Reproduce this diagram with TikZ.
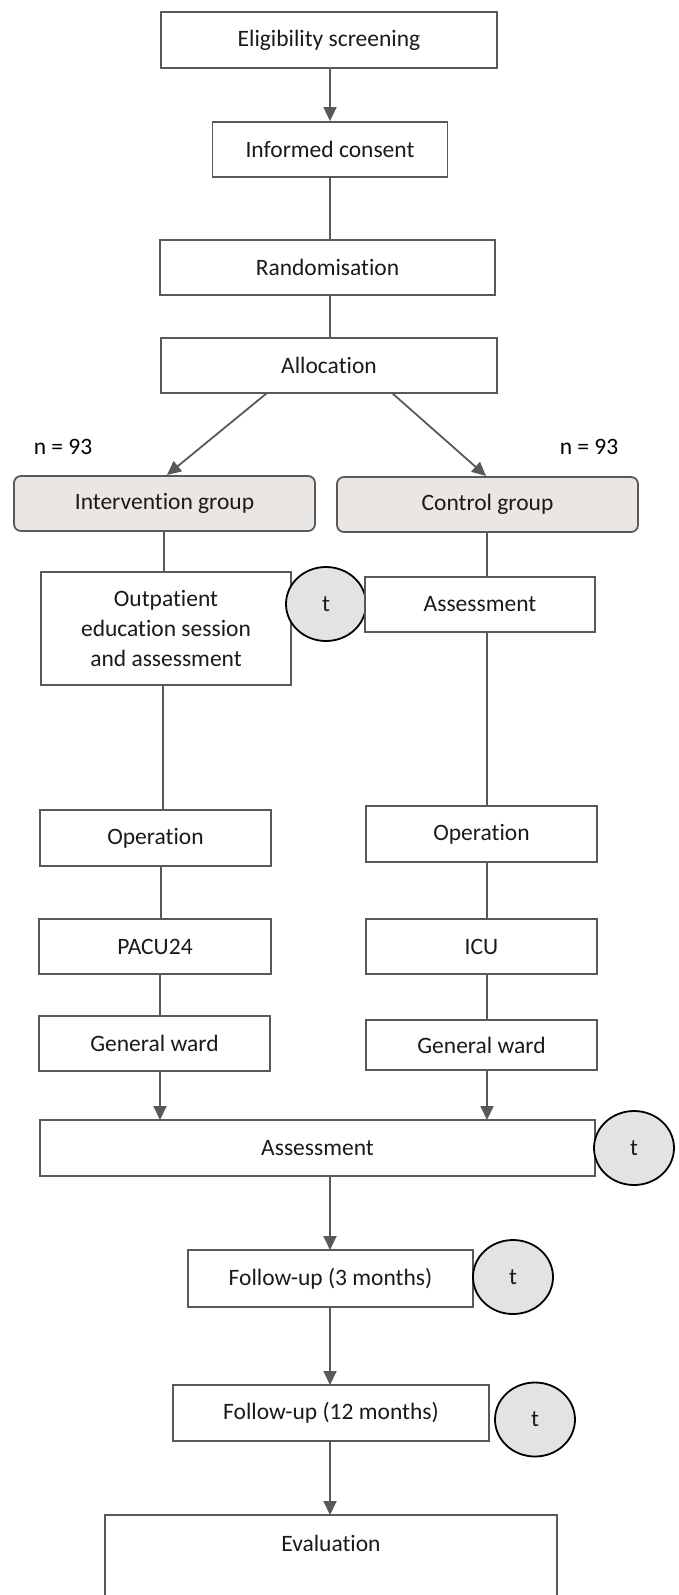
\documentclass[tikz,border=0pt]{standalone}
\usepackage{fontspec}
\setmainfont{Carlito}[Ligatures=NoCommon]
\usetikzlibrary{arrows.meta,shapes.geometric}
\definecolor{linegray}{HTML}{595959}
\definecolor{groupfill}{HTML}{EAE6E3}
\definecolor{circfill}{HTML}{E3E3E3}
\definecolor{txt}{HTML}{1A1A1A}
\tikzset{
  box/.style={draw=linegray, line width=1.8pt, fill=white, rectangle, inner sep=0pt,
    text=txt, font=\fontsize{23.5}{30}\selectfont, align=center},
  group/.style={box, rounded corners=7pt, fill=groupfill},
  tcirc/.style={draw=black, line width=1.8pt, fill=circfill, ellipse, inner sep=0pt,
    minimum width=80pt, minimum height=74pt, text=txt, font=\fontsize{23.5}{28}\selectfont},
  conn/.style={draw=linegray, line width=1.8pt},
  arr/.style={conn, -{Triangle[length=14pt,width=13pt]}},
  lbl/.style={text=black, font=\fontsize{23.5}{28}\selectfont, inner sep=0pt}
}
\begin{document}
\begin{tikzpicture}[x=1pt,y=-1pt]
\useasboundingbox (0,0) rectangle (679,1595);
\clip (0,0) rectangle (679,1595);
% top chain
\node[box, minimum width=336pt, minimum height=56pt] (elig) at (329,40) {Eligibility screening};
\node[box, minimum width=235pt, minimum height=55pt] (cons) at (330,149.5) {Informed consent};
\node[box, minimum width=335pt, minimum height=55pt] (rand) at (327.5,267.5) {Randomisation};
\node[box, minimum width=336pt, minimum height=55pt] (alloc) at (329,365.5) {Allocation};
\draw[arr] (elig.south -| cons.north) -- (cons.north);
\draw[conn] (cons.south) -- (cons.south |- rand.north);
\draw[conn] (rand.south -| cons.south) -- (alloc.north -| cons.south);
% groups
\node[group, minimum width=301pt, minimum height=55pt] (intv) at (164.5,503.5) {Intervention group};
\node[group, minimum width=301pt, minimum height=55pt] (ctrl) at (487.5,504.5) {Control group};
\node[lbl] (nl) at (63,447) {n = 93};
\node[lbl] (nr) at (589,447) {n = 93};
\coordinate (aL) at (267,393);
\coordinate (aR) at (392,393);
\draw[arr] (aL) -- (167,475);
\draw[arr] (aR) -- (486,476);
% left column
\node[box, minimum width=250pt, minimum height=113pt] (outp) at (166,628.5) {Outpatient\\education session\\and assessment};
\node[tcirc] (t1) at (326,604) {t};
\node[box, minimum width=231pt, minimum height=56pt] (opL) at (155.5,838) {Operation};
\node[box, minimum width=232pt, minimum height=55pt] (pacu) at (155,946.5) {PACU24};
\node[box, minimum width=231pt, minimum height=55pt] (gwL) at (154.5,1043.5) {General ward};
% right column
\node[box, minimum width=230pt, minimum height=55pt] (assR) at (480,604.5) {Assessment};
\node[box, minimum width=231pt, minimum height=56pt] (opR) at (481.5,834) {Operation};
\node[box, minimum width=231pt, minimum height=55pt] (icu) at (481.5,946.5) {ICU};
\node[box, minimum width=231pt, minimum height=50pt] (gwR) at (481.5,1045) {General ward};
% connectors columns
\draw[conn] (164,531) -- (164,572);
\draw[conn] (487,532) -- (487,577);
\draw[conn] (163,685) -- (163,810);
\draw[conn] (487,632) -- (487,806);
\draw[conn] (161,866) -- (161,919);
\draw[conn] (160,974) -- (160,1016);
\draw[conn] (487,862) -- (487,919);
\draw[conn] (487,974) -- (487,1020);
% bottom chain
\node[box, minimum width=555pt, minimum height=56pt] (ass) at (317.5,1148) {Assessment};
\node[tcirc] (t2) at (634,1148) {t};
\draw[arr] (160,1071) -- (160,1120);
\draw[arr] (487,1070) -- (487,1120);
\node[box, minimum width=285pt, minimum height=57pt] (fu3) at (330.5,1278.5) {Follow-up (3 months)};
\node[tcirc] (t3) at (513,1277) {t};
\node[box, minimum width=316pt, minimum height=56pt] (fu12) at (331,1413) {Follow-up (12 months)};
\node[tcirc] (t4) at (535,1419.5) {t};
\node[box, minimum width=452pt, minimum height=130pt] (evalb) at (331,1580) {};
\node[lbl, text=txt] (evalt) at (331,1543) {Evaluation};
\draw[arr] (330,1176) -- (330,1250);
\draw[arr] (330,1307) -- (330,1385);
\draw[arr] (330,1441) -- (330,1515);
\end{tikzpicture}
\end{document}
